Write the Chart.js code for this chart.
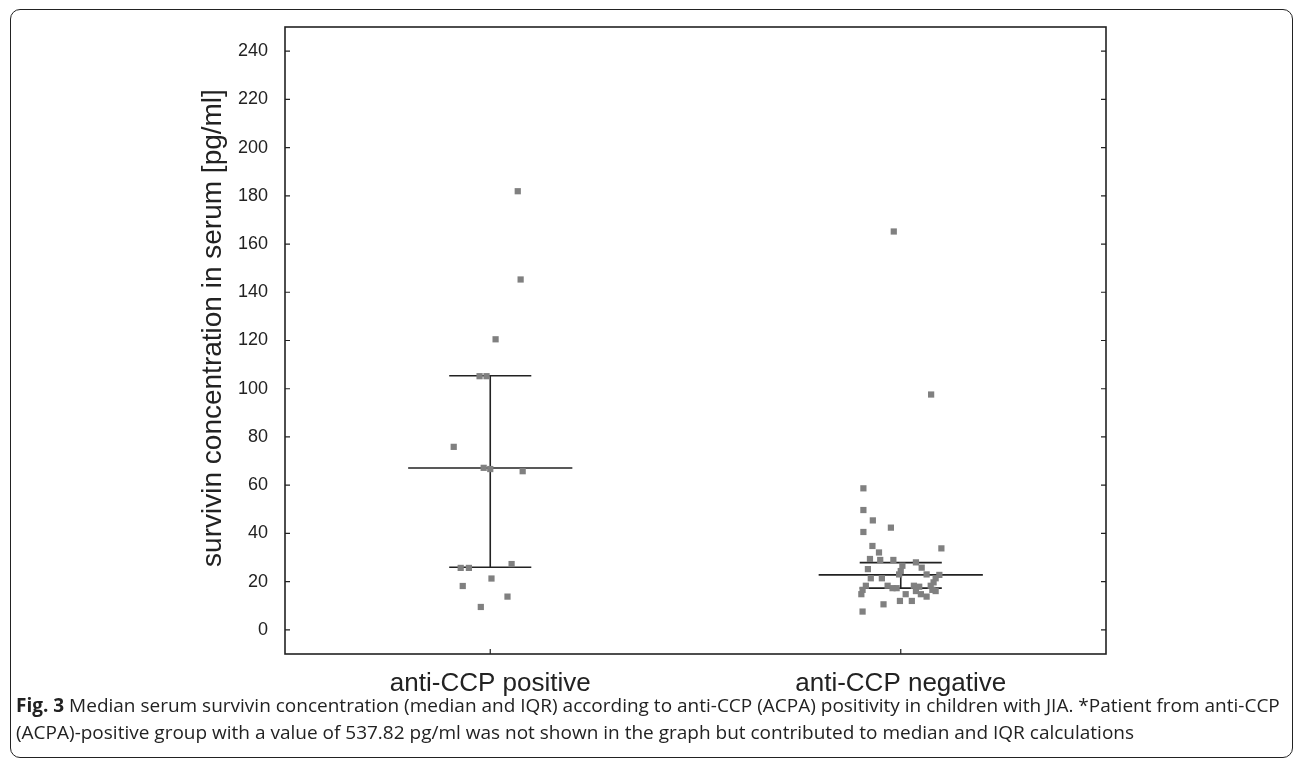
<!DOCTYPE html>
<html lang="en">

<head>
    <meta charset="UTF-8">
    <title>Survivin concentration by anti-CCP status</title>
    <script src="https://cdn.jsdelivr.net/npm/chart.js"></script>
    <style>
        body { margin: 0; background: #fff; }
        #frame {
            position: absolute; left: 10px; top: 9px; width: 1283px; height: 749px;
            box-sizing: border-box; border: 1.5px solid #222; border-radius: 10px;
        }
        #wrap { position: absolute; left: 0; top: 0; width: 1295px; height: 710px; }
        #caption {
            position: absolute; left: 16px; top: 692px; width: 1275px; white-space: nowrap;
            font-family: "Open Sans", sans-serif; font-size: 19px; line-height: 27px; color: #222;
        }
    </style>
</head>

<body>
    <div id="frame"></div>
    <div id="wrap"><canvas id="chart"></canvas></div>
    <div id="caption"><b>Fig. 3</b> Median serum survivin concentration (median and IQR) according to anti-CCP (ACPA) positivity in children with JIA. *Patient from anti-CCP<br>(ACPA)-positive group with a value of 537.82 pg/ml was not shown in the graph but contributed to median and IQR calculations</div>
    <script>

        const categories = ['anti-CCP positive', 'anti-CCP negative'];
        const yTicks = [0, 20, 40, 60, 80, 100, 120, 140, 160, 180, 200, 220, 240];
        const yTitle = 'survivin concentration in serum [pg/ml]';

        // individual values, with their horizontal scatter
        const positiveValues = [181.9, 145.3, 120.5, 105.2, 105.2, 75.9, 67.2, 66.7, 65.8, 27.3, 25.7, 25.7, 21.3, 18.2, 13.8, 9.5];
        const positiveJitter = [0.067, 0.074, 0.013, -0.026, -0.009, -0.089, -0.016, 0, 0.079, 0.052, -0.072, -0.052, 0.003, -0.067, 0.042, -0.023];

        const negativeValues = [165.2, 97.6, 58.7, 49.7, 45.4, 42.4, 40.6, 34.8, 32.1, 33.8, 29.4, 29.0, 29.0, 28.0, 26.6,
            25.8, 25.2, 23.0, 23.0, 24.4, 22.8, 21.4, 21.4, 21.4, 19.7, 18.3, 18.3, 17.3, 17.3, 18.3, 17.9, 18.3,
            16.6, 14.8, 16.1, 14.8, 16.6, 16.1, 14.8, 13.8, 12.0, 12.0, 10.6, 7.6];
        const negativeJitter = [-0.017, 0.074, -0.091, -0.091, -0.068, -0.024, -0.091, -0.069, -0.053, 0.099, -0.075, -0.05, -0.018, 0.037, 0.004,
            0.051, -0.08, 0.063, -0.004, 0, 0.094, -0.073, -0.046, 0.085, 0.08, -0.085, -0.032, -0.02, -0.01, 0.032, 0.045, 0.073,
            -0.093, -0.096, 0.037, 0.049, 0.077, 0.085, 0.012, 0.063, -0.002, 0.027, -0.042, -0.093];

        // median and IQR per group
        const medians = [67.1, 22.8];
        const q1 = [26.0, 17.3];
        const q3 = [105.4, 27.9];

        const ink = '#222';

        function points(values, jitter, pos) {
            return values.map((v, i) => ({ x: pos + jitter[i], y: v }));
        }

        function segment(x1, y1, x2, y2) {
            return {
                type: 'scatter',
                data: [{ x: x1, y: y1 }, { x: x2, y: y2 }],
                showLine: true,
                borderColor: ink,
                borderWidth: 1.6,
                pointRadius: 0,
                order: 1
            };
        }

        const datasets = [
            {
                type: 'scatter',
                data: points(positiveValues, positiveJitter, 1),
                pointStyle: 'rect', pointRadius: 4.4, pointBorderWidth: 0,
                backgroundColor: '#808080', order: 0
            },
            {
                type: 'scatter',
                data: points(negativeValues, negativeJitter, 2),
                pointStyle: 'rect', pointRadius: 4.4, pointBorderWidth: 0,
                backgroundColor: '#808080', order: 0
            }
        ];
        medians.forEach((m, i) => {
            const c = i + 1;
            datasets.push(segment(c - 0.2, m, c + 0.2, m));
            datasets.push(segment(c - 0.1, q1[i], c + 0.1, q1[i]));
            datasets.push(segment(c - 0.1, q3[i], c + 0.1, q3[i]));
            datasets.push(segment(c, q1[i], c, q3[i]));
        });

        // frame with inward tick marks, plus the y title (sits a bit above centre in the original)
        const framePlugin = {
            id: 'frame',
            afterDraw(chart) {
                const { ctx, chartArea: a, scales } = chart;
                ctx.save();
                ctx.strokeStyle = ink;
                ctx.lineWidth = 1.6;
                ctx.strokeRect(a.left, a.top, a.right - a.left, a.bottom - a.top);
                ctx.beginPath();
                yTicks.forEach(v => {
                    const y = scales.y.getPixelForValue(v);
                    ctx.moveTo(a.left, y); ctx.lineTo(a.left + 5, y);
                    ctx.moveTo(a.right, y); ctx.lineTo(a.right - 5, y);
                });
                categories.forEach((c, i) => {
                    const x = scales.x.getPixelForValue(i + 1);
                    ctx.moveTo(x, a.bottom); ctx.lineTo(x, a.bottom - 5);
                });
                ctx.lineWidth = 1.2;
                ctx.stroke();

                ctx.translate(213, 328);
                ctx.rotate(-Math.PI / 2);
                ctx.fillStyle = ink;
                ctx.font = '28px "Liberation Sans", Arial';
                ctx.textAlign = 'center';
                ctx.textBaseline = 'middle';
                ctx.fillText(yTitle, 0, 0);
                ctx.restore();
            }
        };

        const config = {
            type: 'scatter',
            data: { datasets: datasets },
            options: {
                responsive: true,
                maintainAspectRatio: false,
                animation: false,
                layout: { padding: { left: 193, right: 189, top: 27, bottom: 0 } },
                plugins: {
                    legend: { display: false },
                    tooltip: { enabled: false }
                },
                scales: {
                    x: {
                        type: 'linear',
                        min: 0.5,
                        max: 2.5,
                        afterBuildTicks: s => { s.ticks = categories.map((c, i) => ({ value: i + 1 })); },
                        afterFit: s => { s.height = 56; },
                        grid: { display: false },
                        border: { display: false },
                        ticks: {
                            padding: 6,
                            color: ink,
                            font: { family: 'Liberation Sans, Arial', size: 26 },
                            callback: v => categories[v - 1]
                        }
                    },
                    y: {
                        min: -10,
                        max: 250,
                        afterBuildTicks: s => { s.ticks = yTicks.map(v => ({ value: v })); },
                        afterFit: s => { s.width = 92; },
                        grid: { display: false },
                        border: { display: false },
                        ticks: {
                            padding: 9,
                            color: ink,
                            font: { family: 'Liberation Sans, Arial', size: 18 }
                        }
                    }
                }
            },
            plugins: [framePlugin]
        };

        const ctx = document.querySelector('#chart').getContext('2d');
        const myChart = new Chart(ctx, config);

    </script>
</body>

</html>
